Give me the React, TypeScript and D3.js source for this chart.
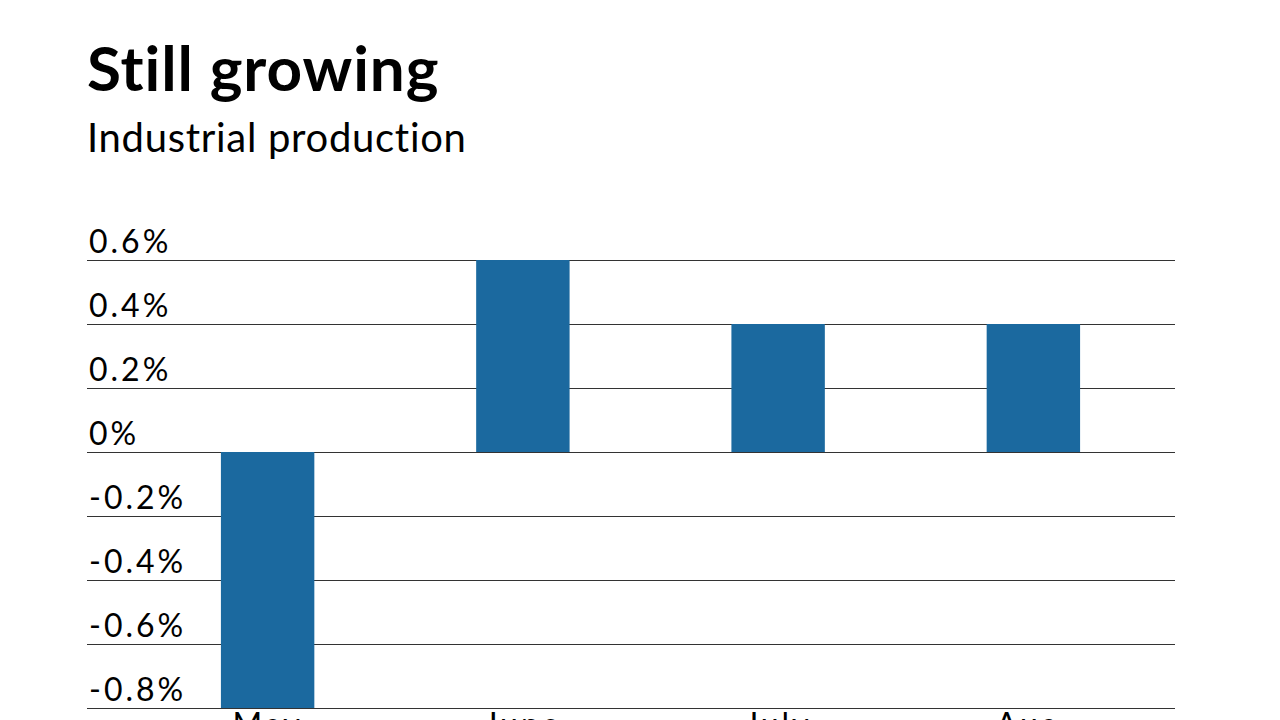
import React, { useEffect, useRef } from "react";
import * as d3 from "d3";

const months = ["May", "June", "July", "Aug."];
const changes = [-0.8, 0.6, 0.4, 0.4];
const ticks = [0.6, 0.4, 0.2, 0, -0.2, -0.4, -0.6, -0.8];

const BAR_COLOR = "#1b699f";
const FONT = "Lato, 'Noto Sans', sans-serif";

const fmtTick = (d: number) => (d === 0 ? "0%" : `${d.toFixed(1)}%`);

const Chart = ({ width = 1280, height = 720 }: { width?: number; height?: number }) => {
  const svgRef = useRef<SVGSVGElement | null>(null);

  useEffect(() => {
    const svg = d3.select(svgRef.current);
    svg.selectAll("*").remove();

    svg.attr("width", width).attr("height", height);
    svg.append("rect").attr("width", width).attr("height", height).attr("fill", "#fff");

    // Title + subtitle
    svg.append("text")
      .attr("x", 87)
      .attr("y", 91)
      .style("font-family", FONT)
      .style("font-weight", 700)
      .style("font-size", "62px")
      .style("letter-spacing", "0.9px")
      .style("font-variant-ligatures", "none")
      .style("fill", "#000")
      .text("Still growing");

    svg.append("text")
      .attr("x", 87)
      .attr("y", 152)
      .style("font-family", FONT)
      .style("font-weight", 400)
      .style("font-size", "40px")
      .style("letter-spacing", "0.7px")
      .style("font-variant-ligatures", "none")
      .style("fill", "#000")
      .text("Industrial production");

    const left = 87;
    const right = 1175;

    const y = d3.scaleLinear().domain([-0.8, 0.6]).range([708, 260]);
    const x = d3.scaleBand<string>()
      .domain(months)
      .range([140, 1161])
      .paddingInner(0.634)
      .paddingOuter(0.317);

    // Gridlines
    svg.append("g")
      .selectAll("line")
      .data(ticks)
      .enter()
      .append("line")
      .attr("x1", left)
      .attr("x2", right)
      .attr("y1", (d) => Math.round(y(d)) + 0.5)
      .attr("y2", (d) => Math.round(y(d)) + 0.5)
      .attr("stroke", "#333")
      .attr("stroke-width", 1.2);

    // Tick labels sit above their gridline
    svg.append("g")
      .selectAll("text")
      .data(ticks)
      .enter()
      .append("text")
      .attr("x", 89)
      .attr("y", (d) => y(d) - 7)
      .style("font-family", FONT)
      .style("font-size", "32px")
      .style("letter-spacing", "3px")
      .style("fill", "#000")
      .text((d) => fmtTick(d));

    // Bars
    svg.append("g")
      .selectAll("rect")
      .data(changes)
      .enter()
      .append("rect")
      .attr("x", (d, i) => x(months[i]) ?? 0)
      .attr("width", x.bandwidth())
      .attr("y", (d) => y(Math.max(0, d)))
      .attr("height", (d) => Math.abs(y(d) - y(0)))
      .attr("fill", BAR_COLOR);

    // Month labels (cut off by the bottom edge, as in the original)
    svg.append("g")
      .selectAll("text")
      .data(months)
      .enter()
      .append("text")
      .attr("x", (d) => (x(d) ?? 0) + x.bandwidth() / 2)
      .attr("y", 736)
      .style("text-anchor", "middle")
      .style("font-family", FONT)
      .style("font-size", "32px")
      .style("letter-spacing", "3px")
      .style("fill", "#000")
      .text((d) => d);
  }, [width, height]);

  return <svg ref={svgRef} style={{ display: "block" }}></svg>;
};

export default function App() {
  useEffect(() => {
    document.body.style.margin = "0";
  }, []);
  return <Chart />;
}
